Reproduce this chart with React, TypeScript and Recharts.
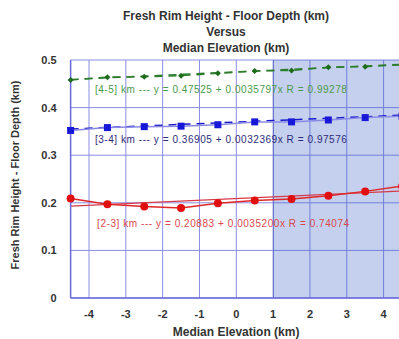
import React from "react";
import {
  CartesianGrid,
  ComposedChart,
  Line,
  ReferenceArea,
  ReferenceDot,
  XAxis,
  YAxis,
} from "recharts";

const ELEVATION = [-4.5, -3.5, -2.5, -1.5, -0.5, 0.5, 1.5, 2.5, 3.5, 4.5];
const DEPTH_4_5 = [0.458, 0.464, 0.465, 0.467, 0.472, 0.477, 0.478, 0.485, 0.486, 0.49];
const DEPTH_3_4 = [0.352, 0.358, 0.36, 0.361, 0.364, 0.37, 0.37, 0.374, 0.379, 0.382];
const DEPTH_2_3 = [0.209, 0.197, 0.192, 0.189, 0.199, 0.205, 0.208, 0.215, 0.224, 0.235];

// fit lines, value at the two ends of the axis
const FIT_4_5 = [0.459, 0.491];
const FIT_3_4 = [0.355, 0.384];
const FIT_2_3 = [0.193, 0.225];

const X_TICKS = [-4, -3, -2, -1, 0, 1, 2, 3, 4];
const Y_TICKS = [0, 0.1, 0.2, 0.3, 0.4, 0.5];

const LABEL_4_5 = "[4-5] km --- y = 0.47525 + 0.0035797x R = 0.99278";
const LABEL_3_4 = "[3-4] km --- y = 0.36905 + 0.0032369x R = 0.97576";
const LABEL_2_3 = "[2-3] km --- y = 0.20883 + 0.0035200x R = 0.74074";

const FONT = "'Liberation Sans', Arial, sans-serif";
const AXIS = "#6b6bdc";
const GRID = "#8c8ce6";

const data = ELEVATION.map((x, i) => ({
  x,
  g: DEPTH_4_5[i],
  b: DEPTH_3_4[i],
  r: DEPTH_2_3[i],
  gFit: i === 0 ? FIT_4_5[0] : i === ELEVATION.length - 1 ? FIT_4_5[1] : undefined,
  bFit: i === 0 ? FIT_3_4[0] : i === ELEVATION.length - 1 ? FIT_3_4[1] : undefined,
  rFit: i === 0 ? FIT_2_3[0] : i === ELEVATION.length - 1 ? FIT_2_3[1] : undefined,
}));

const Diamond = (props: any) => {
  const { cx, cy, key } = props;
  return (
    <path
      key={key}
      d={`M${cx},${cy - 3} L${cx + 3},${cy} L${cx},${cy + 3} L${cx - 3},${cy} Z`}
      fill="#1e6b1e"
    />
  );
};

const Square = (props: any) => {
  const { cx, cy, key } = props;
  return <rect key={key} x={cx - 3.5} y={cy - 3.5} width={7} height={7} fill="#1818d8" />;
};

const fitLabel = (text: string, color: string) => (props: any) => {
  const { viewBox } = props;
  return (
    <text
      x={viewBox.x}
      y={viewBox.y}
      dominantBaseline="central"
      fill={color}
      fontSize={10}
      fontFamily={FONT}
      textLength={252}
    >
      {text}
    </text>
  );
};

const YTitle = (props: any) => {
  const { viewBox } = props;
  const cy = viewBox.y + viewBox.height / 2 - 4;
  return (
    <text
      x={15}
      y={cy}
      transform={`rotate(-90 15 ${cy})`}
      textAnchor="middle"
      dominantBaseline="central"
      fill="#333"
      fontSize={11}
      fontWeight="bold"
      fontFamily={FONT}
    >
      Fresh Rim Height - Floor Depth (km)
    </text>
  );
};

export default function App() {
  return (
    <div
      style={{
        position: "absolute",
        left: 0,
        top: 0,
        width: 399,
        height: 339,
        overflow: "hidden",
        background: "#fff",
        fontFamily: FONT,
      }}
    >
      <div
        style={{
          position: "absolute",
          left: 0,
          top: 8,
          width: 452,
          textAlign: "center",
          fontWeight: "bold",
          fontSize: 12,
          lineHeight: "16px",
          color: "#333",
        }}
      >
        Fresh Rim Height - Floor Depth (km)
        <br />
        Versus
        <br />
        Median Elevation (km)
      </div>
      <div
        style={{
          position: "absolute",
          left: 70.6,
          width: 331,
          top: 324,
          textAlign: "center",
          fontWeight: "bold",
          fontSize: 12,
          lineHeight: "16px",
          color: "#333",
        }}
      >
        Median Elevation (km)
      </div>
      <ComposedChart
        width={402}
        height={339}
        data={data}
        margin={{ top: 60, right: 0, bottom: 0, left: 0 }}
      >
        <CartesianGrid stroke={GRID} strokeWidth={1} />
        <ReferenceArea
          x1={1}
          x2={4.5}
          y1={0}
          y2={0.5}
          fill="#3c64c8"
          fillOpacity={0.3}
          stroke="none"
        />
        <ReferenceArea x1={1} x2={1.02} y1={0} y2={0.5} fill="#4a5ab8" fillOpacity={0.8} stroke="none" />
        <XAxis
          type="number"
          dataKey="x"
          domain={[-4.5, 4.5]}
          ticks={X_TICKS}
          height={41}
          tickLine={false}
          tickMargin={6}
          stroke={AXIS}
          strokeWidth={1.5}
          tick={{ fill: "#333", fontSize: 11, fontWeight: "bold", fontFamily: FONT }}
        />
        <YAxis
          type="number"
          domain={[0, 0.5]}
          ticks={Y_TICKS}
          width={70.6}
          tickLine={false}
          tickMargin={8}
          stroke={AXIS}
          strokeWidth={1.5}
          tick={{ fill: "#333", fontSize: 11, fontWeight: "bold", fontFamily: FONT }}
          label={YTitle}
        />
        <Line
          dataKey="gFit"
          connectNulls
          stroke="#2e7d2e"
          strokeWidth={1.5}
          strokeDasharray="8 6"
          dot={false}
          isAnimationActive={false}
        />
        <Line
          dataKey="g"
          stroke="#2e7d2e"
          strokeWidth={1.5}
          strokeDasharray="8 6"
          dot={Diamond}
          isAnimationActive={false}
        />
        <Line
          dataKey="bFit"
          connectNulls
          stroke="#1a1ac8"
          strokeWidth={1.5}
          strokeDasharray="8 6"
          dot={false}
          isAnimationActive={false}
        />
        <Line
          dataKey="b"
          stroke="#8a8ae6"
          strokeWidth={1.5}
          dot={Square}
          isAnimationActive={false}
        />
        <Line
          dataKey="rFit"
          connectNulls
          stroke="#d83a4a"
          strokeWidth={1.2}
          dot={false}
          isAnimationActive={false}
        />
        <Line
          dataKey="r"
          stroke="#e02828"
          strokeWidth={1.5}
          dot={{ r: 4, fill: "#e01010", stroke: "none" }}
          isAnimationActive={false}
        />
        <ReferenceDot x={-3.84} y={0.439} r={0} stroke="none" label={fitLabel(LABEL_4_5, "#4c9a4c")} />
        <ReferenceDot x={-3.84} y={0.332} r={0} stroke="none" label={fitLabel(LABEL_3_4, "#2c2c78")} />
        <ReferenceDot x={-3.78} y={0.157} r={0} stroke="none" label={fitLabel(LABEL_2_3, "#d8484c")} />
      </ComposedChart>
    </div>
  );
}
